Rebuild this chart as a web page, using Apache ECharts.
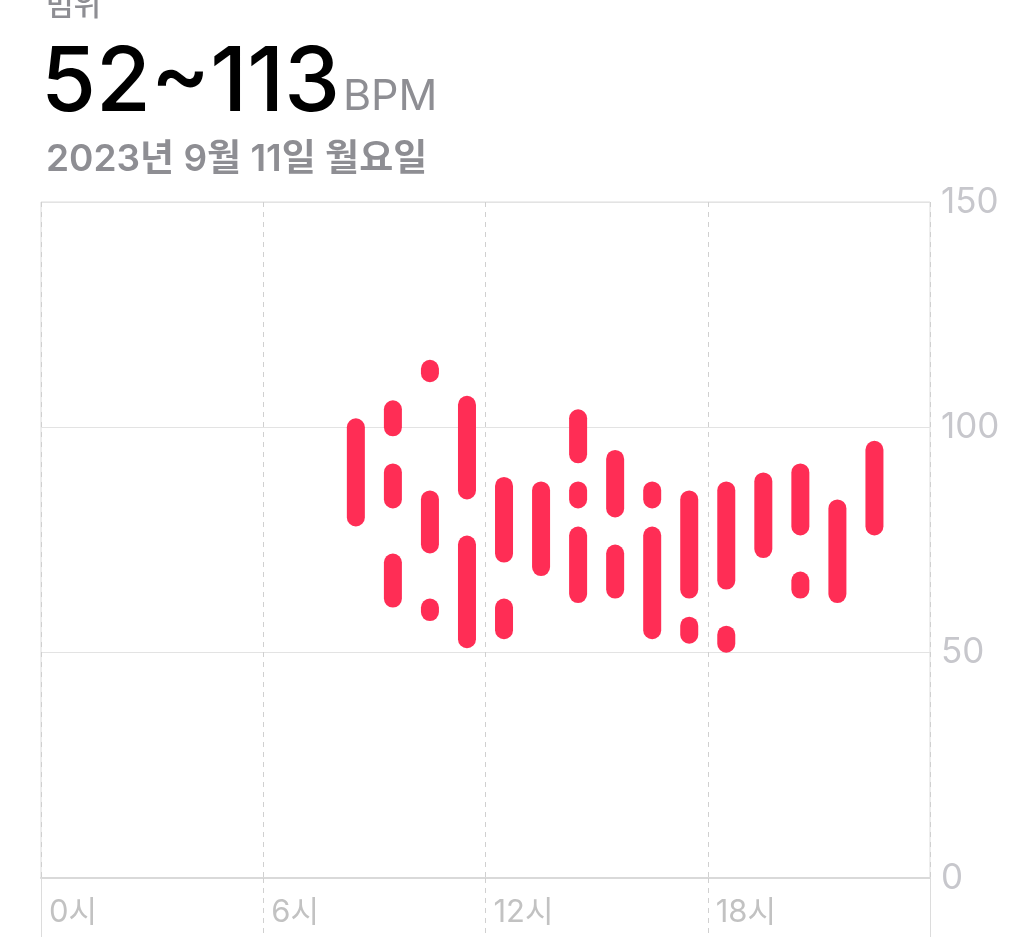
<!DOCTYPE html>
<html>
<head>
<meta charset="utf-8">
<script src="https://cdn.jsdelivr.net/npm/echarts@6/dist/echarts.min.js"></script>
<style>
  html, body { margin: 0; padding: 0; background: #fff; }
  #chart { width: 1024px; height: 937px; }
</style>
</head>
<body>
<div id="chart"></div>
<script>
// heart rate ranges per hour (one entry per capsule)
const segHour = [8, 9, 9, 9, 10, 10, 10, 11, 11, 12, 12, 13, 14, 14, 14, 15, 15, 16, 16, 17, 17, 18, 18, 19, 20, 20, 21, 22];
const segLow  = [80, 100, 84, 62, 112, 74, 59, 86, 53, 72, 55, 69, 94, 84, 63, 82, 64, 84, 55, 64, 54, 66, 52, 73, 78, 64, 63, 78];
const segHigh = [100, 104, 90, 70, 113, 84, 60, 105, 74, 87, 60, 86, 102, 86, 76, 93, 72, 86, 76, 84, 56, 86, 54, 88, 90, 66, 82, 95];

const yTicks = [0, 50, 100, 150];
const hourTicks = [0, 6, 12, 18];

const titleLabel = '범위';
const rangeText = '52~113';
const unitText = 'BPM';
const dateText = '2023년 9월 11일 월요일';

const FONT = 'Inter, "Noto Sans CJK KR", sans-serif';
const PINK = '#ff2d55';

const data = segHour.map((h, i) => [h, segLow[i], segHigh[i]]);

const myChart = echarts.init(document.getElementById('chart'));
const option = {
  animation: false,
  backgroundColor: '#fff',
  title: [
    {
      text: titleLabel,
      left: 41, top: -14,
      textStyle: { fontFamily: FONT, fontSize: 30, fontWeight: 500, color: '#8e8e93' }
    },
    {
      text: '{a|' + rangeText + '}{b|' + unitText + '}',
      left: 36, top: 28,
      textStyle: {
        rich: {
          a: { fontFamily: FONT, fontSize: 89, fontWeight: 500, color: '#000', lineHeight: 96, verticalAlign: 'bottom' },
          b: { fontFamily: FONT, fontSize: 43, fontWeight: 400, color: '#8e8e93', lineHeight: 52, verticalAlign: 'bottom', padding: [0, 0, 10, 3] }
        }
      }
    },
    {
      text: dateText,
      left: 41, top: 136,
      textStyle: { fontFamily: FONT, fontSize: 37, fontWeight: 600, color: '#8e8e93' }
    }
  ],
  grid: {
    left: 41, right: 94, top: 202, bottom: 59,
    show: true, borderColor: '#dcdcdc', borderWidth: 1
  },
  xAxis: [
    {
      type: 'value', min: 0, max: 24, interval: 6,
      axisLine: { show: true, lineStyle: { color: '#d9d9d9', width: 2 } },
      axisTick: { show: true, length: 60, lineStyle: { color: '#d0d0d0', type: [5, 5], width: 1 } },
      splitLine: { show: true, lineStyle: { color: '#d0d0d0', type: [5, 5], width: 1 } },
      axisLabel: {
        margin: 19,
        align: 'left',
        padding: [0, 0, 0, 8],
        fontFamily: FONT, fontSize: 31, color: '#c2c2c2',
        formatter: v => hourTicks.includes(v) ? v + '시' : ''
      }
    },
    {
      type: 'value', min: 0, max: 24, interval: 24, position: 'bottom',
      axisLine: { show: false },
      axisTick: { show: true, length: 60, lineStyle: { color: '#dcdcdc', width: 1 } },
      splitLine: { show: false },
      axisLabel: { show: false }
    }
  ],
  yAxis: {
    type: 'value', position: 'right', min: 0, max: 150, interval: 50,
    axisLine: { show: false },
    axisTick: { show: false },
    splitLine: { show: true, lineStyle: { color: '#e3e3e3', width: 1 } },
    axisLabel: {
      margin: 11,
      fontFamily: FONT, fontSize: 35, color: '#c7c7cc',
      formatter: v => yTicks.includes(v) ? String(v) : ''
    }
  },
  series: [
    {
      type: 'custom',
      xAxisIndex: 0,
      data: data,
      renderItem: function (params, api) {
        const x = api.value(0) + 0.5;
        const top = api.coord([x, api.value(2)]);
        const bot = api.coord([x, api.value(1)]);
        return {
          type: 'line',
          shape: { x1: top[0], y1: top[1], x2: bot[0], y2: bot[1] },
          style: { stroke: PINK, lineWidth: 18, lineCap: 'round' }
        };
      }
    }
  ]
};
myChart.setOption(option);
window.addEventListener('resize', function () {
  myChart.resize();
});
</script>
</body>
</html>
